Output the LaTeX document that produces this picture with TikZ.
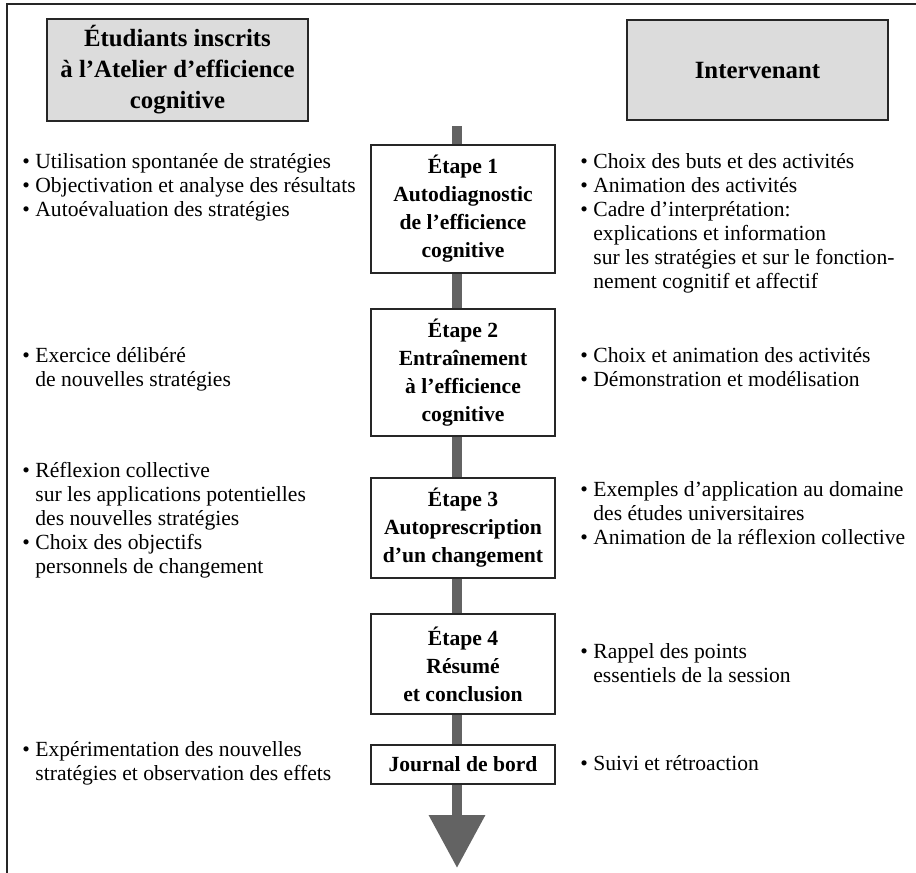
\documentclass[tikz,border=0pt]{standalone}
\usepackage{fontspec}
\setmainfont{Liberation Serif}
\usetikzlibrary{positioning, arrows.meta}

\definecolor{fondtitre}{HTML}{DCDCDC}
\definecolor{grisbarre}{HTML}{636363}
\definecolor{traitcadre}{HTML}{262626}

\newcommand{\puce}{\makebox[6.5pt][l]{\textbullet}}
\newcommand{\suite}{\hspace*{6.5pt}}

\tikzset{
  titre/.style={draw=traitcadre, line width=1.4pt, fill=fondtitre, align=center,
    minimum width=130.5pt, minimum height=50pt, font=\bfseries\fontsize{12.4}{15.5}\selectfont},
  etape/.style={draw=traitcadre, line width=1.4pt, fill=white, align=center,
    minimum width=92pt, inner sep=3pt, font=\bfseries\fontsize{10.8}{14}\selectfont},
  puces/.style={align=left, inner sep=0pt, anchor=north west, font=\fontsize{10.8}{12}\selectfont},
  barre/.style={draw=grisbarre, line width=5pt, -{Triangle[width=27pt, length=26.5pt]}},
  cadre/.style={draw=traitcadre, line width=1.3pt},
}

\begin{document}
\begin{tikzpicture}[x=0.5pt, y=-0.5pt]
  \useasboundingbox (0,0) rectangle (916,873);
  \draw[cadre] (7,873) |- (916,4);

  % en-tetes
  \node (titreG)[titre] at (177.5, 70) {Étudiants inscrits\\à l’Atelier d’efficience\\cognitive};
  \node (titreD)[titre] at (757.5, 70) {Intervenant};

  % fleche centrale
  \coordinate (depart) at (457, 126);
  \coordinate (fin) at (457, 868);
  \draw[barre] (depart) -- (fin);

  % etapes
  \node (e1)[etape, minimum height=64pt] at (463, 209) {Étape 1\\Autodiagnostic\\de l’efficience\\cognitive};
  \node (e2)[etape, minimum height=63.5pt] at (463, 372.5) {Étape 2\\Entraînement\\à l’efficience\\cognitive};
  \node (e3)[etape, minimum height=50pt] at (463, 528) {Étape 3\\Autoprescription\\d’un changement};
  \node (e4)[etape, minimum height=50pt] at (463, 664) {Étape 4\\Résumé\\et conclusion};
  \node (jdb)[etape, minimum height=19.5pt] at (463, 764.5) {Journal de bord};

  % etudiants
  \node (g1)[puces] at (22, 153) {\puce Utilisation spontanée de stratégies\\
    \puce Objectivation et analyse des résultats\\
    \puce Autoévaluation des stratégies};
  \node (g2)[puces] at (22, 347) {\puce Exercice délibéré\\
    \suite de nouvelles stratégies};
  \node (g3)[puces] at (22, 462) {\puce Réflexion collective\\
    \suite sur les applications potentielles\\
    \suite des nouvelles stratégies\\
    \puce Choix des objectifs\\
    \suite personnels de changement};
  \node (g5)[puces] at (22, 741) {\puce Expérimentation des nouvelles\\
    \suite stratégies et observation des effets};

  % intervenant
  \node (d1)[puces] at (580, 153) {\puce Choix des buts et des activités\\
    \puce Animation des activités\\
    \puce Cadre d’interprétation:\\
    \suite explications et information\\
    \suite sur les stratégies et sur le fonction-\\
    \suite nement cognitif et affectif};
  \node (d2)[puces] at (580, 347) {\puce Choix et animation des activités\\
    \puce Démonstration et modélisation};
  \node (d3)[puces] at (580, 481) {\puce Exemples d’application au domaine\\
    \suite des études universitaires\\
    \puce Animation de la réflexion collective};
  \node (d4)[puces] at (580, 643) {\puce Rappel des points\\
    \suite essentiels de la session};
  \node (d5)[puces] at (580, 755) {\puce Suivi et rétroaction};
\end{tikzpicture}
\end{document}
